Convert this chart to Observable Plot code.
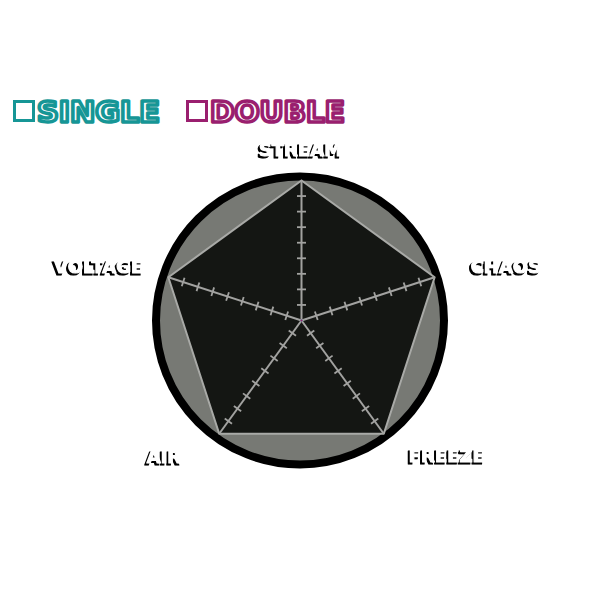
<!DOCTYPE html>
<html>
<head>
<meta charset="utf-8">
<script src="https://cdn.jsdelivr.net/npm/d3@7"></script>
<script src="https://cdn.jsdelivr.net/npm/@observablehq/plot@0.6"></script>
<style>
  html, body { margin: 0; padding: 0; background: #fff; }
  #chart { position: relative; width: 600px; height: 600px; overflow: hidden; }
  #chart > svg.plot { position: absolute; left: 0; top: 0; }
  #legend { position: absolute; left: 0; top: 95px; }
</style>
</head>
<body>
<div id="chart"></div>
<script>
(function () {
  'use strict';

  /* ---- Data ---- */
  const axes = ['STREAM', 'CHAOS', 'FREEZE', 'AIR', 'VOLTAGE'];
  const seriesNames = ['SINGLE', 'DOUBLE'];
  const seriesColors = ['#169696', '#9a1f6f'];
  const singleValues = [0, 0, 0, 0, 0];
  const doubleValues = [0, 0, 0, 0, 0];
  const tickSteps = [1, 2, 3, 4, 5, 6, 7, 8];   // out of 9 divisions
  const tickDivisions = 9;

  /* ---- Layout ---- */
  const R = 140;            // px radius of the pentagon
  const cx = 301, cy = 320; // px centre
  const angle = i => Math.PI / 2 - i * 2 * Math.PI / axes.length;
  const pt = (i, t) => ({ x: t * Math.cos(angle(i)), y: t * Math.sin(angle(i)) });

  const labelLayout = {
    STREAM:  { dx: -1,  dy: -30, anchor: 'middle' },
    CHAOS:   { dx: 36,  dy: -10, anchor: 'start' },
    FREEZE:  { dx: 25,  dy: 22,  anchor: 'start' },
    AIR:     { dx: -38, dy: 23,  anchor: 'end' },
    VOLTAGE: { dx: -25, dy: -10, anchor: 'end' }
  };

  const vertices = axes.map((name, i) => ({ name, ...pt(i, 1) }));
  const spokes = vertices.map(v => ({ x1: 0, y1: 0, x2: v.x, y2: v.y }));
  const ticks = [];
  axes.forEach((name, i) => {
    const a = angle(i), h = 4.5 / R;
    tickSteps.forEach(k => {
      const p = pt(i, k / tickDivisions);
      ticks.push({
        x1: p.x - h * Math.sin(a), y1: p.y + h * Math.cos(a),
        x2: p.x + h * Math.sin(a), y2: p.y - h * Math.cos(a)
      });
    });
  });

  const series = [singleValues, doubleValues].map((vals, s) =>
    vals.map((v, i) => ({ series: seriesNames[s], ...pt(i, v) }))
  );

  // one text per axis label, drop shadow added after render
  const labelMarks = axes.map(name => {
    const L = labelLayout[name];
    return Plot.text(vertices.filter(v => v.name === name), {
      x: 'x', y: 'y', text: 'name', textAnchor: L.anchor, dx: L.dx, dy: L.dy,
      fontFamily: "'DejaVu Sans', sans-serif", fontWeight: 'bold', fontSize: 18,
      fill: '#fff', stroke: '#fff', strokeWidth: 1.2
    });
  });

  const chart = Plot.plot({
    width: 600,
    height: 600,
    margin: 0,
    style: { background: 'transparent' },
    x: { domain: [-cx / R, (600 - cx) / R], axis: null },
    y: { domain: [-(600 - cy) / R, cy / R], axis: null },
    marks: [
      Plot.dot([{ x: -1.5 / R, y: 0 }], { x: 'x', y: 'y', r: 144, fill: '#777974', stroke: '#000', strokeWidth: 8 }),
      Plot.line(vertices.concat([vertices[0]]), { x: 'x', y: 'y', fill: '#141613', stroke: '#a9aaa7', strokeWidth: 2 }),
      Plot.link(spokes, { x1: 'x1', y1: 'y1', x2: 'x2', y2: 'y2', stroke: '#a2a2a0', strokeWidth: 2 }),
      Plot.link(ticks, { x1: 'x1', y1: 'y1', x2: 'x2', y2: 'y2', stroke: '#a2a2a0', strokeWidth: 1.8 }),
      ...series.map((d, s) => Plot.line(d.concat([d[0]]), {
        x: 'x', y: 'y', stroke: seriesColors[s], strokeWidth: 2, fill: seriesColors[s], fillOpacity: 0.3
      })),
      ...labelMarks
    ]
  });

  chart.querySelectorAll('g[aria-label="text"]').forEach(g => {
    g.style.filter = 'drop-shadow(-2px 2px 0 #000)';
  });

  const root = document.getElementById('chart');
  root.appendChild(chart);

  /* ---- Legend ---- */
  const legendItems = [
    { x: 13, width: 123 },
    { x: 186, width: 135 }
  ];
  const ns = 'http://www.w3.org/2000/svg';
  const legend = document.createElementNS(ns, 'svg');
  legend.setAttribute('id', 'legend');
  legend.setAttribute('width', 600);
  legend.setAttribute('height', 40);
  seriesNames.forEach((name, s) => {
    const it = legendItems[s];
    const rect = document.createElementNS(ns, 'rect');
    rect.setAttribute('x', it.x + 1.5);
    rect.setAttribute('y', 6.5);
    rect.setAttribute('width', 19);
    rect.setAttribute('height', 19);
    rect.setAttribute('fill', '#fff');
    rect.setAttribute('stroke', seriesColors[s]);
    rect.setAttribute('stroke-width', 3);
    legend.appendChild(rect);
    const t = document.createElementNS(ns, 'text');
    t.textContent = name;
    t.setAttribute('x', it.x + 24);
    t.setAttribute('y', 27);
    t.setAttribute('textLength', it.width);
    t.setAttribute('lengthAdjust', 'spacingAndGlyphs');
    t.setAttribute('font-family', "'DejaVu Sans', sans-serif");
    t.setAttribute('font-weight', 'bold');
    t.setAttribute('font-size', 29);
    t.setAttribute('fill', '#fff');
    t.setAttribute('stroke', seriesColors[s]);
    t.setAttribute('stroke-width', 3.5);
    t.setAttribute('stroke-linejoin', 'round');
    legend.appendChild(t);
  });
  root.appendChild(legend);
})();
</script>
</body>
</html>
